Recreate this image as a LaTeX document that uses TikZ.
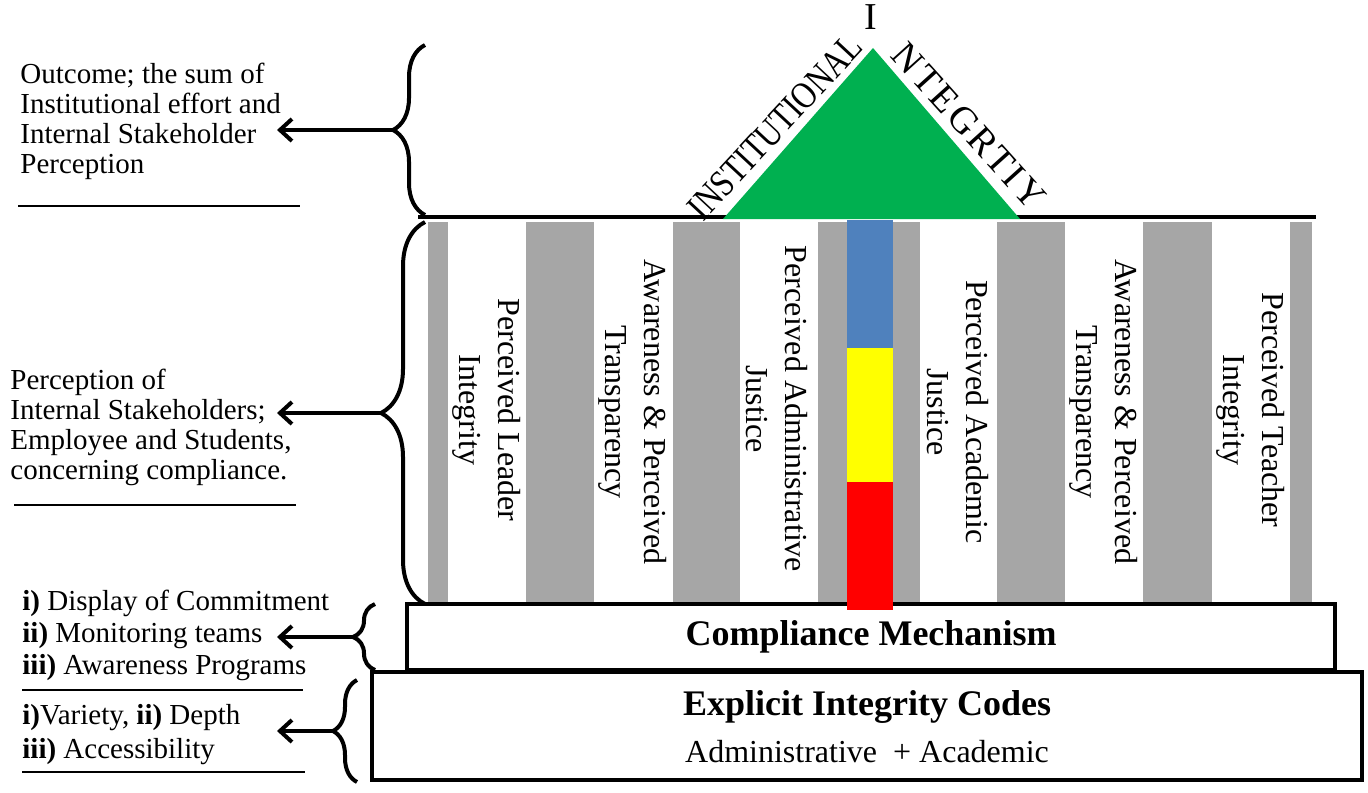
\documentclass[tikz,border=0pt]{standalone}
\usepackage{fontspec}
\setmainfont{Liberation Serif}
\usepackage{graphicx}
\usetikzlibrary{arrows.meta, decorations.pathreplacing}
\definecolor{PillarGray}{HTML}{A6A6A6}
\definecolor{RoofGreen}{HTML}{00B050}
\definecolor{BarBlue}{HTML}{4F81BD}
\definecolor{BarYellow}{HTML}{FFFF00}
\definecolor{BarRed}{HTML}{FF0000}
\tikzset{
    % Text styles
    sidetext/.style={
        anchor=west,
        align=left,
        inner sep=0pt,
        font=\fontsize{14.5}{15}\selectfont
    },
    pillartext/.style={
        rotate=-90,
        align=center,
        inner sep=0pt,
        font=\fontsize{16}{19.5}\selectfont
    },
    roofletter/.style={
        inner sep=0pt,
        font=\fontsize{19}{19}\selectfont
    },
    basebox/.style={
        rectangle,
        draw,
        line width=2pt,
        fill=white
    },
    % Brace and arrow styles
    sidebrace/.style={
        decorate,
        decoration={brace, amplitude=#1},
        line width=2pt
    },
    sidearrow/.style={
        -{Straight Barb[length=6pt,width=11pt]},
        line width=2pt
    },
    noteline/.style={
        line width=0.8pt
    }
}

\begin{document}
\begin{tikzpicture}[x=0.5pt, y=-0.5pt]
    \useasboundingbox (0,0) rectangle (1368,792);

    % Pillars
    \fill[white] (428,222) rectangle (1312,602);
    \foreach \a/\b in {428/448, 526/594, 673/740, 818/920, 997/1065, 1143/1212, 1290/1312} {
        \fill[PillarGray] (\a,222) rectangle (\b,602);
    }

    % Base steps
    \node[basebox, minimum width=495pt, minimum height=54pt] (codes) at (867,726) {};
    \node[basebox, minimum width=464pt, minimum height=33pt,
          font=\fontsize{18}{18}\selectfont\bfseries] (comp) at (871,637) {Compliance Mechanism};
    \node[font=\fontsize{18}{18}\selectfont\bfseries] (codestitle) at (867,707) {Explicit Integrity Codes};
    \node[font=\fontsize{16}{16}\selectfont] (codessub) at (867,752) {Administrative~ + Academic};

    % Colour bar in the middle pillar
    \fill[BarBlue] (847,220) rectangle (893,348);
    \fill[BarYellow] (847,348) rectangle (893,482);
    \fill[BarRed] (847,482) rectangle (893,610);

    % Roof
    \draw[line width=2pt] (418,217) -- (1316,217);
    \fill[RoofGreen] (723,219) -- (873,48) -- (1020,219) -- cycle;
    \node[roofletter, rotate=47] (roofleft) at (775,127) {\scalebox{0.82}[1]{INSTITUTIONAL}};
    \node[roofletter] (rooftop) at (871,17) {I};
    \node[roofletter, rotate=-48] (roofright) at (969,126)
        {\addfontfeature{LetterSpace=8}NTEGRTIY};

    % Pillar labels
    \node[pillartext] (leader) at (487,410) {Perceived Leader\\Integrity};
    \node[pillartext] (awareA) at (633,412) {Awareness \& Perceived\\Transparency};
    \node[pillartext] (admin) at (777,409) {Perceived Administrative\\Justice};
    \node[pillartext] (academic) at (958,412) {Perceived Academic\\Justice};
    \node[pillartext] (awareB) at (1104,412) {Awareness \& Perceived\\Transparency};
    \node[pillartext] (teacher) at (1251,410) {Perceived Teacher\\Integrity};

    % Side notes
    \node[sidetext] (outcome) at (20,121) {Outcome; the sum of\\Institutional effort and\\Internal Stakeholder\\Perception};
    \node[sidetext] (perception) at (10,427) {Perception of\\Internal Stakeholders;\\Employee and Students,\\concerning compliance.};
    \node[sidetext, font=\fontsize{14.5}{16}\selectfont] (mechanism) at (22,635)
        {\textbf{i)} Display of Commitment\\\textbf{ii)} Monitoring teams\\\textbf{iii)} Awareness Programs};
    \node[sidetext, font=\fontsize{14.5}{17}\selectfont] (codesnote) at (22,735)
        {\textbf{i)}Variety, \textbf{ii)} Depth\\\textbf{iii)} Accessibility};
    \draw[noteline] (18,206) -- (300,206);
    \draw[noteline] (14,505) -- (296,505);
    \draw[noteline] (22,690) -- (303,690);
    \draw[noteline] (22,772) -- (305,772);

    % Braces
    \draw[sidebrace=16pt] (425,215) -- (425,45);
    \draw[sidebrace=22pt] (425,604) -- (425,222);
    \draw[sidebrace=11pt] (375,670) -- (375,604);
    \draw[sidebrace=12pt] (357,782) -- (357,680);

    % Arrows from brace tips
    \coordinate (tipA) at (393,130);
    \coordinate (tipB) at (381,413);
    \coordinate (tipC) at (353,637);
    \coordinate (tipD) at (333,731);
    \coordinate (endA) at (277,130);
    \coordinate (endB) at (277,413);
    \coordinate (endC) at (277,637);
    \coordinate (endD) at (277,731);
    \foreach \p in {A,B,C,D} {
        \draw[sidearrow] (tip\p) -- (end\p);
    }
\end{tikzpicture}
\end{document}
